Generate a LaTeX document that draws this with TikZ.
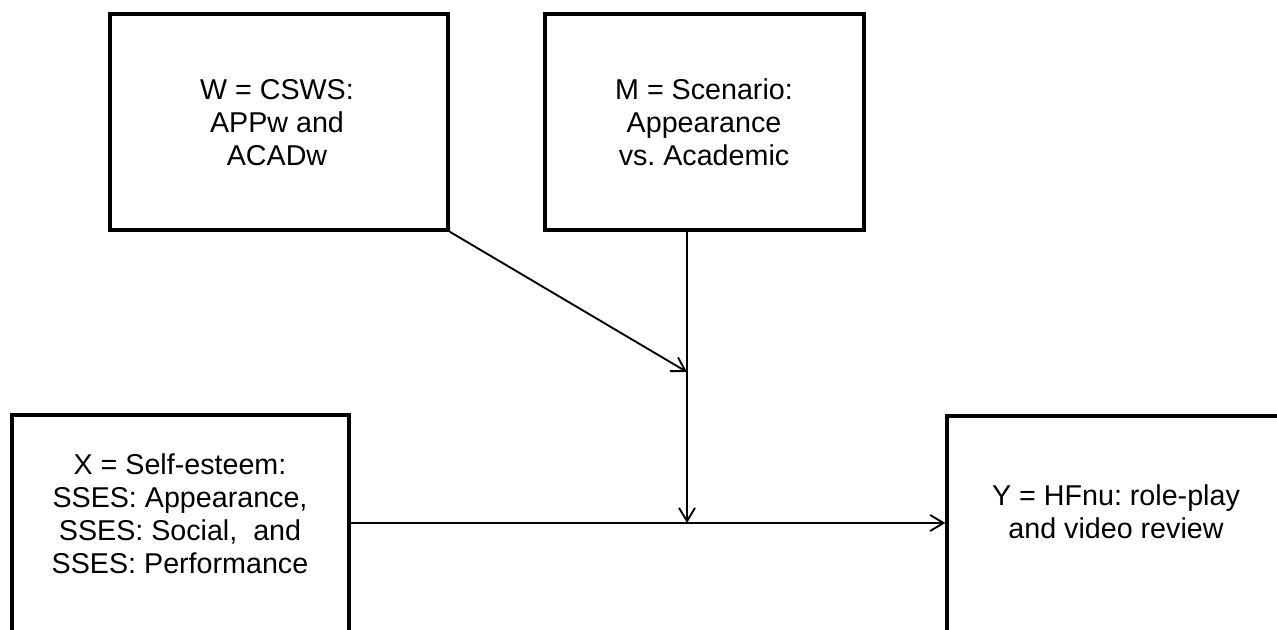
\documentclass[tikz,border=0pt]{standalone}
\usepackage{fontspec}
\setmainfont{Liberation Sans}
\usetikzlibrary{arrows.meta}
\frenchspacing
\begin{document}
\begin{tikzpicture}[x=0.75pt,y=-0.75pt,
  box/.style={draw, line width=2.6pt, inner sep=0pt, anchor=center},
  lbl/.style={align=center, inner sep=0pt, font=\fontsize{21.5pt}{24.8pt}\selectfont},
  conn/.style={line width=1.4pt, -{Straight Barb[length=10pt,width=12pt,line width=1.4pt]}}]
\useasboundingbox (0,0) rectangle (1277,630);
\clip (0,0) rectangle (1277,630);
\fill[white] (0,0) rectangle (1277,630);
% boxes
\node[box, minimum width=253.5pt, minimum height=162pt] (W) at (279,122) {};
\node[box, minimum width=239.25pt, minimum height=162pt] (M) at (704.5,122) {};
\node[box, minimum width=252.75pt, minimum height=172.5pt] (X) at (180.5,530) {};
\node[box, minimum width=257.25pt, minimum height=171.75pt] (Y) at (1118.5,530.5) {};
% texts
\node[lbl] (Wt) at (277,123) {W = CSWS:\\APPw and\\ACADw};
\node[lbl] (Mt) at (704,122) {M = Scenario:\\Appearance\\vs. Academic};
\node[lbl] (Xt) at (180,514) {X = Self-esteem:\\SSES: Appearance,\\SSES: Social,~ and\\SSES: Performance};
\node[lbl] (Yt) at (1116,512) {Y = HFnu: role-play\\and video review};
% connector points
\coordinate (mtop) at (687,230);
\coordinate (wm) at (687,372);
\coordinate (xy) at (687,523);
\draw[conn] (W.south east) -- (wm);
\draw[conn] (mtop) -- (xy);
\draw[conn] (X.east |- xy) -- (Y.west |- xy);
\end{tikzpicture}
\end{document}
